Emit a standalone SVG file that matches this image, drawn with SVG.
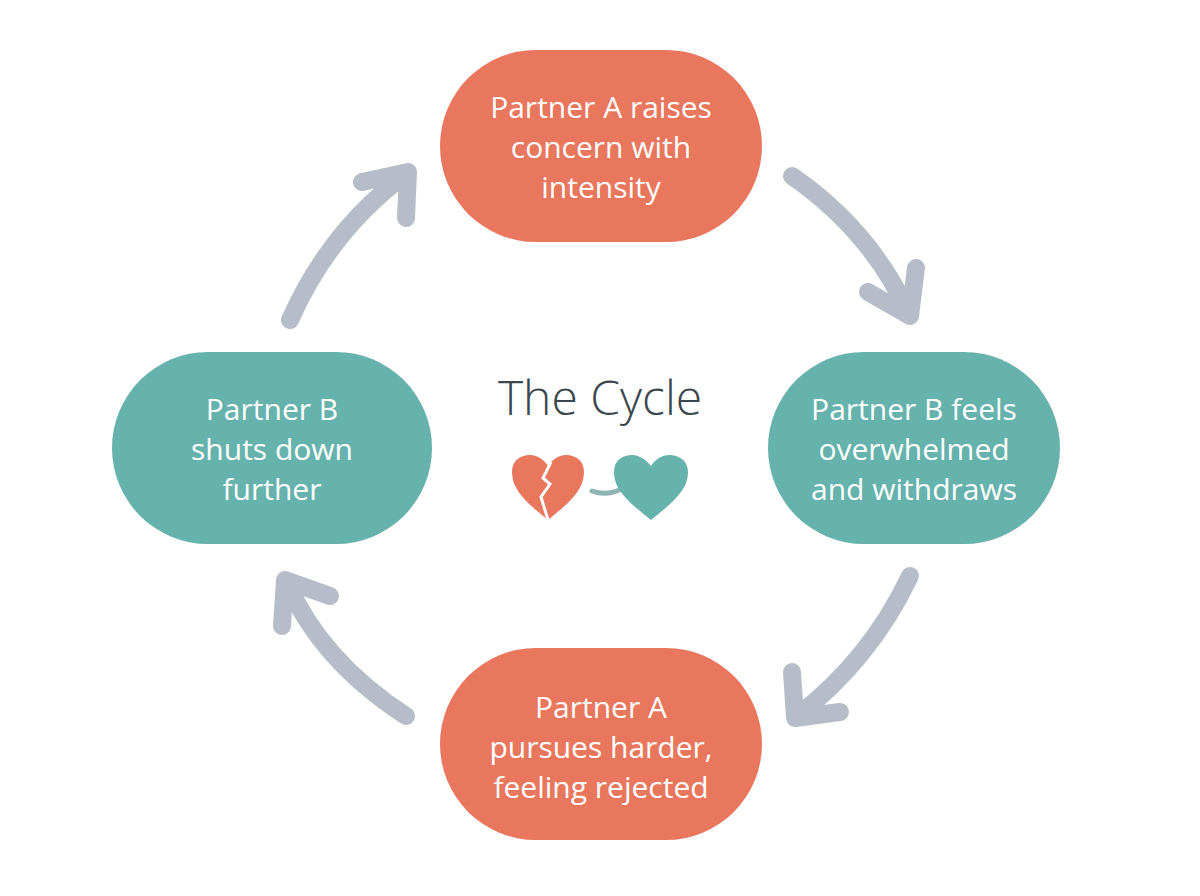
<svg xmlns="http://www.w3.org/2000/svg" width="1200" height="896" viewBox="0 0 1200 896">
<style>
.o{fill:#E8775E}.t{fill:#66B2AC}
.lb{font-family:"Open Sans","Noto Sans",sans-serif;font-size:30px;fill:#fff;text-anchor:middle}
.ar{fill:none;stroke:#B6BDC9;stroke-width:18;stroke-linecap:round;stroke-linejoin:round}
</style>
<rect width="1200" height="896" fill="#fff"/>
<g id="connectors">
<path class="ar" d="M792,176 Q870,230 908,312"/><path class="ar" d="M868,292 L910,316 L916,268"/>
<path class="ar" d="M910,576 Q870,660 797,716"/><path class="ar" d="M792,672 L795,718 L840,712"/>
<path class="ar" d="M406,716 Q320,660 287,582"/><path class="ar" d="M282,626 L285,580 L330,596"/>
<path class="ar" d="M290,320 Q330,230 406,174"/><path class="ar" d="M362,182 L408,172 L406,218"/>
</g>
<g id="n1"><rect class="o" x="440" y="50" width="322" height="192" rx="96"/>
<text class="lb" x="601" y="118">Partner A raises</text><text class="lb" x="601" y="158">concern with</text><text class="lb" x="601" y="198">intensity</text></g>
<g id="n2"><rect class="t" x="768" y="352" width="292" height="192" rx="96"/>
<text class="lb" x="914" y="420">Partner B feels</text><text class="lb" x="914" y="460">overwhelmed</text><text class="lb" x="914" y="500">and withdraws</text></g>
<g id="n3"><rect class="o" x="440" y="648" width="322" height="192" rx="96"/>
<text class="lb" x="601" y="718">Partner A</text><text class="lb" x="601" y="758">pursues harder,</text><text class="lb" x="601" y="798">feeling rejected</text></g>
<g id="n4"><rect class="t" x="112" y="352" width="320" height="192" rx="96"/>
<text class="lb" x="272" y="420">Partner B</text><text class="lb" x="272" y="460">shuts down</text><text class="lb" x="272" y="500">further</text></g>
<g id="center">
<text x="600" y="415" font-family="'Open Sans','Noto Sans',sans-serif" font-size="48" font-weight="300" fill="#3A474C" text-anchor="middle">The Cycle</text>
<path class="o" d="M548,520 C530,505 512,492 512,472 C512,460 521,455 530,455 C538,455 544,460 548,466 C552,460 558,455 566,455 C575,455 584,460 584,472 C584,492 566,505 548,520 Z"/>
<path d="M551,462 L543,478 L550,484 L541,497 L548,520" fill="none" stroke="#fff" stroke-width="3" stroke-linejoin="miter"/>
<path d="M592,491 Q610,498 630,484" fill="none" stroke="#8FB5B2" stroke-width="5" stroke-linecap="round"/>
<path class="t" d="M651,520 C633,505 614,492 614,472 C614,460 623,455 632,455 C640,455 646,460 651,466 C655,460 661,455 669,455 C678,455 688,460 688,472 C688,492 669,505 651,520 Z"/>
</g>
</svg>
